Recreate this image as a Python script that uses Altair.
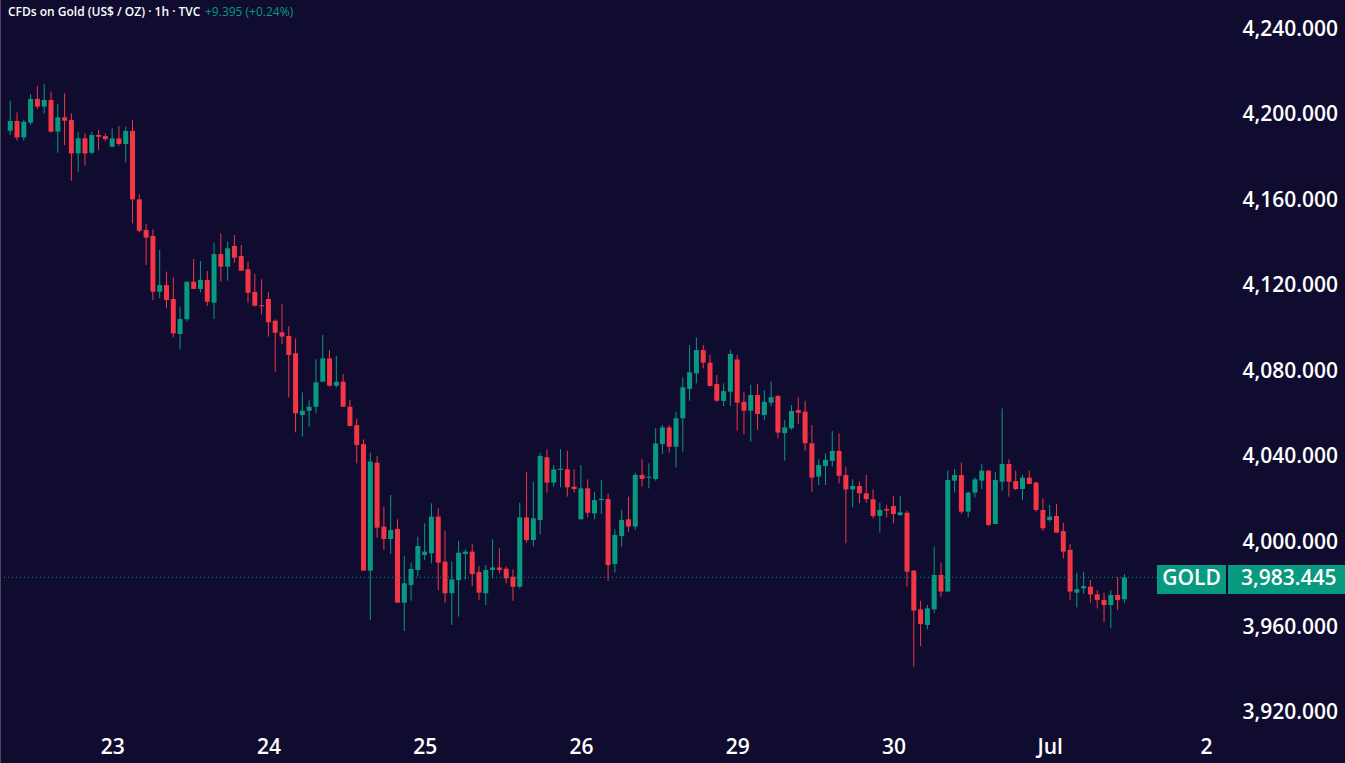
import altair as alt
import pandas as pd
import numpy as np

# ---- data (hourly candles) ----
opens = [4192.4, 4197.0, 4189.3, 4196.2, 4207.3, 4203.7, 4206.8, 4192.0, 4198.7, 4197.4,
         4181.8, 4188.9, 4182.1, 4190.4, 4189.9, 4184.9, 4188.8, 4186.2, 4192.3, 4160.3,
         4146.0, 4143.2, 4117.1, 4120.2, 4113.7, 4097.3, 4104.2, 4121.8, 4118.4, 4122.6,
         4112.0, 4134.7, 4128.8, 4138.5, 4133.8, 4127.6, 4117.0, 4110.6, 4113.7, 4103.5,
         4098.1, 4096.4, 4088.3, 4059.4, 4061.4, 4063.3, 4075.0, 4085.9, 4073.1, 4075.0,
         4063.3, 4054.7, 4045.8, 3986.6, 4037.1, 4007.2, 4001.4, 4006.1, 3971.6, 3979.9,
         3986.9, 3993.9, 3994.7, 4011.9, 3990.8, 3976.0, 3982.2, 3994.4, 3995.5, 3986.0,
         3976.0, 3986.9, 3988.1, 3987.5, 3983.8, 3979.1, 4011.5, 4000.9, 4010.3, 4039.6,
         4027.8, 4033.7, 4034.0, 4025.9, 4010.6, 4025.1, 4013.4, 4019.6, 4020.1, 3989.7,
         4002.8, 4010.6, 4007.2, 4031.4, 4030.1, 4029.5, 4045.8, 4053.6, 4044.6, 4057.9,
         4071.6, 4078.9, 4089.8, 4083.9, 4073.9, 4066.0, 4070.3, 4085.4, 4065.6, 4061.4,
         4068.8, 4059.4, 4065.2, 4068.3, 4050.9, 4053.2, 4061.7, 4061.0, 4046.2, 4030.6,
         4035.6, 4037.9, 4042.6, 4031.3, 4024.6, 4026.2, 4022.8, 4020.0, 4012.2, 4015.4,
         4016.8, 4012.6, 4013.7, 3986.6, 3968.5, 3961.2, 3968.5, 3984.6, 3976.8, 4028.7,
         4031.3, 4014.2, 4023.1, 4028.7, 4033.4, 4008.4, 4028.2, 4036.5, 4028.5, 4024.8,
         4030.1, 4027.8, 4015.0, 4010.3, 4012.2, 4005.1, 3996.3, 3976.3, 3978.3, 3979.1,
         3975.5, 3972.9, 3970.5, 3975.2, 3973.2]
highs = [4206.5, 4201.0, 4197.5, 4209.6, 4213.3, 4214.3, 4210.7, 4204.9, 4209.9, 4200.5,
         4191.9, 4191.2, 4191.9, 4192.7, 4191.2, 4193.5, 4194.6, 4194.3, 4197.4, 4162.6,
         4148.8, 4146.3, 4136.6, 4126.5, 4123.8, 4110.1, 4121.8, 4132.4, 4131.5, 4126.8,
         4140.0, 4144.4, 4140.5, 4143.6, 4138.9, 4131.1, 4125.4, 4122.9, 4116.8, 4104.2,
         4111.2, 4101.0, 4095.3, 4070.0, 4066.4, 4085.5, 4096.8, 4089.8, 4087.0, 4078.6,
         4066.4, 4057.8, 4048.0, 4041.8, 4040.2, 4016.5, 4022.0, 4010.6, 3993.4, 3990.3,
         4002.5, 4008.7, 4018.1, 4015.8, 4005.3, 3990.8, 4000.6, 3996.6, 3999.1, 3988.8,
         3989.2, 4001.2, 3997.0, 3988.5, 3987.2, 4018.4, 4032.9, 4028.2, 4041.8, 4043.4,
         4036.0, 4043.4, 4042.7, 4034.0, 4036.0, 4029.3, 4023.5, 4029.0, 4022.5, 4005.9,
         4015.0, 4021.2, 4032.4, 4038.7, 4036.8, 4053.2, 4054.7, 4054.7, 4061.0, 4077.0,
         4092.2, 4095.7, 4092.2, 4087.5, 4078.1, 4074.2, 4089.8, 4087.5, 4070.3, 4073.5,
         4073.9, 4071.1, 4075.0, 4068.8, 4057.1, 4064.1, 4067.7, 4066.1, 4054.7, 4038.7,
         4041.5, 4051.9, 4050.8, 4035.2, 4029.3, 4028.2, 4031.4, 4024.6, 4018.4, 4017.3,
         4021.5, 4021.5, 4014.6, 3986.9, 3972.5, 3970.5, 3997.8, 3990.3, 4033.4, 4034.1,
         4037.1, 4023.6, 4030.2, 4036.5, 4033.4, 4032.9, 4062.5, 4038.7, 4033.4, 4031.3,
         4033.4, 4028.2, 4020.4, 4017.3, 4017.8, 4009.0, 3999.1, 3985.6, 3986.1, 3982.2,
         3977.5, 3976.3, 3977.5, 3983.5, 3985.0]
lows = [4190.4, 4187.8, 4187.8, 4195.1, 4202.6, 4200.5, 4191.5, 4182.1, 4185.7, 4169.0,
        4173.2, 4176.1, 4181.5, 4183.4, 4187.6, 4184.9, 4185.4, 4177.5, 4149.1, 4145.0,
        4129.6, 4113.2, 4114.0, 4109.3, 4095.7, 4090.1, 4103.1, 4118.4, 4116.8, 4110.4,
        4104.3, 4121.8, 4122.3, 4130.7, 4126.9, 4112.0, 4110.1, 4106.5, 4096.1, 4079.7,
        4092.6, 4067.7, 4051.3, 4049.3, 4053.9, 4060.2, 4075.0, 4072.7, 4072.3, 4063.3,
        4054.0, 4036.8, 3986.6, 3963.5, 4002.0, 3996.3, 3994.4, 3971.6, 3958.4, 3972.5,
        3983.8, 3991.6, 3990.0, 3977.5, 3971.6, 3961.2, 3965.1, 3982.5, 3979.4, 3972.9,
        3970.5, 3983.0, 3985.4, 3980.7, 3972.5, 3978.3, 3999.7, 3997.8, 4003.7, 4023.1,
        4025.9, 4025.6, 4021.2, 4023.1, 4010.6, 4011.5, 4010.6, 4013.1, 3981.9, 3985.7,
        3997.8, 4004.8, 4005.6, 4025.9, 4025.1, 4028.7, 4041.2, 4041.8, 4034.9, 4042.2,
        4066.1, 4074.2, 4081.2, 4072.7, 4065.6, 4063.6, 4063.6, 4052.1, 4050.5, 4046.9,
        4052.4, 4057.1, 4063.6, 4048.5, 4038.1, 4052.4, 4055.2, 4042.7, 4023.5, 4026.7,
        4026.7, 4035.2, 4027.4, 3999.4, 4016.2, 4018.1, 4018.4, 4011.1, 4004.4, 4011.5,
        4008.7, 4012.2, 3979.1, 3941.7, 3951.3, 3959.1, 3966.9, 3974.4, 3976.8, 4023.1,
        4013.1, 4011.5, 4020.9, 4024.6, 4007.5, 4008.4, 4024.0, 4021.2, 4024.3, 4019.6,
        4027.1, 4014.2, 4005.3, 4009.5, 4004.4, 3992.3, 3972.9, 3969.4, 3975.7, 3971.6,
        3968.9, 3962.4, 3959.6, 3968.2, 3971.6]
closes = [4197.0, 4189.2, 4196.6, 4207.3, 4203.7, 4206.8, 4192.0, 4198.7, 4197.1, 4181.8,
          4188.9, 4181.8, 4190.4, 4189.6, 4188.5, 4188.8, 4186.2, 4192.3, 4160.3, 4145.6,
          4142.4, 4117.1, 4120.2, 4113.2, 4097.6, 4104.3, 4121.8, 4118.4, 4122.6, 4112.4,
          4134.7, 4128.8, 4137.4, 4133.0, 4126.9, 4116.6, 4110.6, 4110.4, 4102.8, 4097.9,
          4096.1, 4087.5, 4060.2, 4061.4, 4063.3, 4074.7, 4085.9, 4073.1, 4075.0, 4063.3,
          4054.3, 4045.4, 3986.6, 4037.6, 4006.7, 4001.4, 4005.6, 3971.6, 3980.7, 3987.4,
          3998.1, 3995.5, 4011.9, 3990.3, 3976.0, 3982.5, 3995.0, 3995.5, 3985.0, 3976.3,
          3986.9, 3988.1, 3986.9, 3983.0, 3979.1, 4011.5, 4000.9, 4011.1, 4040.2, 4027.8,
          4034.0, 4034.3, 4025.6, 4024.8, 4025.1, 4013.7, 4019.6, 4020.2, 3989.2, 4003.3,
          4010.3, 4007.2, 4031.4, 4029.5, 4030.5, 4046.1, 4053.6, 4044.6, 4057.9, 4072.4,
          4079.4, 4089.8, 4083.9, 4073.0, 4066.1, 4070.6, 4088.0, 4065.2, 4061.4, 4068.8,
          4059.9, 4065.6, 4067.7, 4051.2, 4053.6, 4061.3, 4060.5, 4046.2, 4030.1, 4036.0,
          4038.4, 4042.6, 4031.0, 4024.6, 4026.2, 4022.8, 4020.0, 4012.2, 4015.0, 4014.7,
          4013.1, 4013.9, 3986.1, 3967.9, 3961.6, 3969.0, 3984.6, 3976.8, 4029.0, 4031.3,
          4014.2, 4023.1, 4029.3, 4033.4, 4008.0, 4029.0, 4036.5, 4028.2, 4024.8, 4030.1,
          4027.1, 4015.0, 4006.4, 4011.9, 4004.4, 3995.5, 3976.8, 3977.9, 3979.4, 3975.5,
          3972.9, 3970.5, 3975.2, 3972.9, 3983.445]

day_labels = ["23", "24", "25", "26", "29", "30", "Jul", "2"]
day_first_bar = [15, 38, 61, 84, 107, 130, 153, 176]
price_ticks = [3920, 3960, 4000, 4040, 4080, 4120, 4160, 4200, 4240]
last_price = 3983.445
symbol = "GOLD"
header = "CFDs on Gold (US$ / OZ) · 1h · TVC"
header_change = "+9.395 (+0.24%)"

# ---- styling ----
BG = "#0f0c30"
UP = "#089981"
DOWN = "#f23645"
FONT = "Open Sans"
W, H = 1232, 727

n = len(opens)
df = pd.DataFrame({"i": np.arange(n), "open": opens, "high": highs,
                   "low": lows, "close": closes})
df["dir"] = np.where(df["close"] >= df["open"], "up", "down")
top = np.maximum(df["open"], df["close"])
bot = np.minimum(df["open"], df["close"])
mid = (top + bot) / 2
thin = (top - bot) < 0.5
df["top"] = np.where(thin, mid + 0.25, top)
df["bot"] = np.where(thin, mid - 0.25, bot)

x_scale = alt.Scale(domain=[-0.77, 179.1], nice=False, zero=False)
y_scale = alt.Scale(domain=[3913.45, 4253.57], nice=False, zero=False)
color = alt.Color("dir:N", scale=alt.Scale(domain=["up", "down"], range=[UP, DOWN]), legend=None)

label_expr = " : ".join(f"datum.value == {v} ? '{t}'" for v, t in zip(day_first_bar, day_labels)) + " : ''"

x_axis = alt.Axis(values=day_first_bar, labelExpr=label_expr, title=None, grid=False,
                  domain=False, ticks=False, labelColor="#ffffff", labelFont=FONT,
                  labelFontSize=21, labelFontWeight=600, labelPadding=9,
                  labelFlush=False, labelOverlap=False)
y_axis = alt.Axis(values=price_ticks, format=",.3f", orient="right", title=None, grid=False,
                  domain=False, ticks=False, labelColor="#ffffff", labelFont=FONT,
                  labelFontSize=21, labelFontWeight=600, labelPadding=10,
                  labelFlush=False, labelOverlap=False)

base = alt.Chart(df)
wicks = base.mark_rule(strokeWidth=1).encode(
    x=alt.X("i:Q", scale=x_scale, axis=x_axis),
    y=alt.Y("low:Q", scale=y_scale, axis=y_axis),
    y2="high:Q",
    color=color,
)
bodies = base.mark_bar(size=5).encode(
    x=alt.X("i:Q", scale=x_scale, axis=x_axis),
    y=alt.Y("bot:Q", scale=y_scale, axis=y_axis),
    y2="top:Q",
    color=color,
)

pdf = pd.DataFrame({"p": [last_price], "sym": [symbol], "lbl": [f"{last_price:,.3f}"]})
pbase = alt.Chart(pdf)
py = alt.Y("p:Q", scale=y_scale, axis=y_axis)
price_line = pbase.mark_rule(strokeDash=[1, 3], color=UP, strokeWidth=1).encode(
    y=py, x=alt.value(0), x2=alt.value(1157))
sym_box = pbase.mark_rule(strokeWidth=29, color=UP, strokeCap="butt", yOffset=2).encode(
    y=py, x=alt.value(1157), x2=alt.value(1226))
price_box = pbase.mark_rule(strokeWidth=29, color=UP, strokeCap="butt", yOffset=2).encode(
    y=py, x=alt.value(1228), x2=alt.value(1345))
sym_text = pbase.mark_text(align="center", baseline="middle", font=FONT, fontSize=21,
                           fontWeight=600, color="#ffffff", yOffset=2).encode(
    y=py, x=alt.value(1191.5), text="sym:N")
price_text = pbase.mark_text(align="left", baseline="middle", font=FONT, fontSize=21,
                             fontWeight=600, color="#ffffff", yOffset=2).encode(
    y=py, x=alt.value(1241), text="lbl:N")

hdf = pd.DataFrame({"a": [header], "b": [header_change]})
hbase = alt.Chart(hdf)
head1 = hbase.mark_text(align="left", baseline="middle", font=FONT, fontSize=12,
                        fontWeight=600, color="#ffffff").encode(
    x=alt.value(8), y=alt.value(12), text="a:N")
head2 = hbase.mark_text(align="left", baseline="middle", font=FONT, fontSize=12,
                        color=UP).encode(
    x=alt.value(205), y=alt.value(12), text="b:N")

border = hbase.mark_rule(color="#4a4866", strokeWidth=1).encode(
    x=alt.value(0.5), y=alt.value(0), y2=alt.value(763))

chart = alt.layer(wicks, bodies, price_line, sym_box, price_box, sym_text, price_text,
                  head1, head2, border).properties(
    width=W, height=H,
    padding={"left": 0, "top": 0, "right": 113, "bottom": 36},
    autosize=alt.AutoSizeParams(type="none"),
    background=BG,
).configure_view(strokeWidth=0)

chart.save("out.html", embed_options={"renderer": "svg", "actions": False})
